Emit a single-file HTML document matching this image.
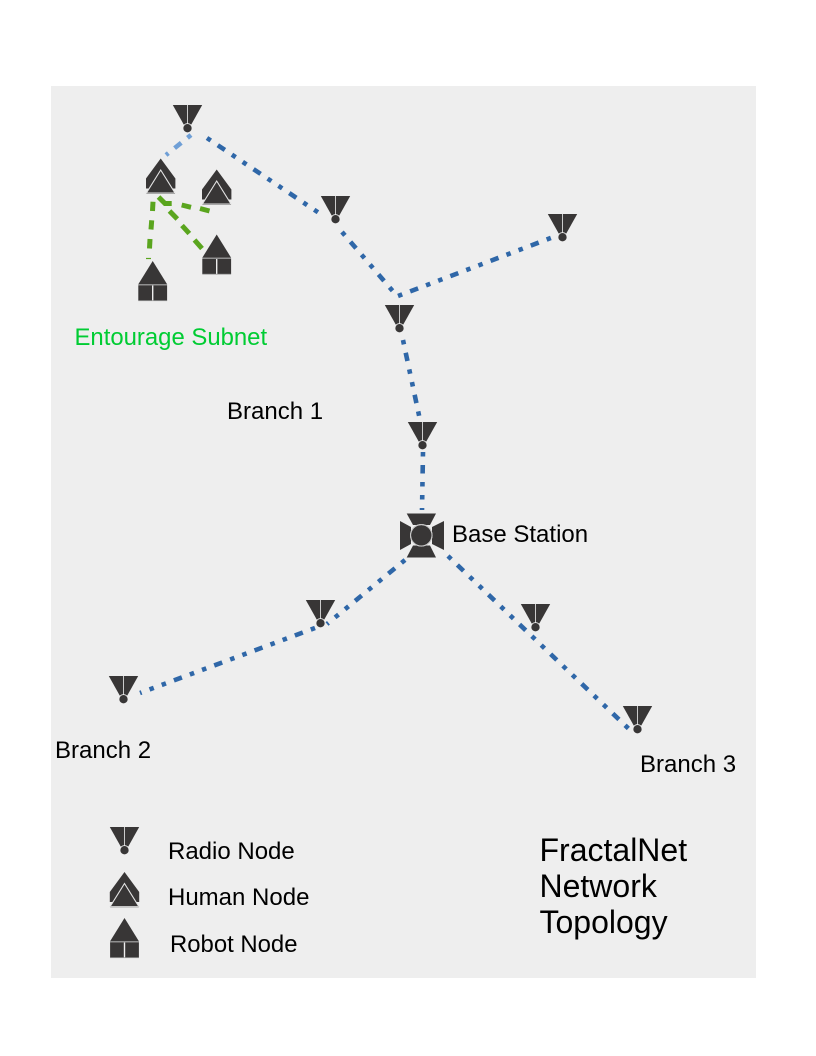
<!DOCTYPE html>
<html>
<head>
<meta charset="utf-8">
<style>
html,body{margin:0;padding:0;background:#fff;width:816px;height:1056px;overflow:hidden}
svg{display:block}
text{font-family:"Liberation Sans",sans-serif;fill:#000}
</style>
</head>
<body>
<svg width="816" height="1056" viewBox="0 0 816 1056" xmlns="http://www.w3.org/2000/svg">
<defs>
<g id="radio">
<path d="M-14.7 0H-0.4V19.5H-3.8Z" fill="#383636"/>
<path d="M14.7 0H0.4V19.5H3.8Z" fill="#383636"/>
<circle cx="0" cy="23.2" r="4.6" fill="#383636" stroke="#eee" stroke-width="0.9"/>
</g>
<g id="human">
<path d="M0 0L14.7 20V30H-14.7V20Z" fill="#383636"/>
<path d="M0 11.5L14.3 34.5H-14.3Z" fill="#383636" stroke="#e4e4e4" stroke-width="1.1"/>
<path d="M-14.3 35H14.3" stroke="#a8a8a8" stroke-width="0.9"/>
</g>
<g id="robot">
<path d="M0 0L14.4 23.2H-14.4Z" fill="#383636"/>
<rect x="-14.4" y="23" width="28.8" height="1.5" fill="#8f8f8f"/>
<rect x="-14.4" y="24.5" width="13.7" height="15" fill="#383636"/>
<rect x="0.7" y="24.5" width="13.7" height="15" fill="#383636"/>
<rect x="-14.4" y="39.3" width="28.8" height="0.8" fill="#9a9a9a"/>
</g>
</defs>

<rect x="51" y="86" width="705" height="892" fill="#eeeeee"/>

<g fill="none" stroke="#2f67a8" stroke-width="4.6" stroke-dasharray="4.5 8.5 8.5 8.5 4.5 8.5">
<path d="M207 138L322 215"/>
<path d="M342 232L397 296"/>
<path d="M398 296L556 236"/>
<path d="M403 340L420 420"/>
<path d="M423 452L422 510"/>
<path d="M405 560L327 624"/>
<path d="M315 628L140 693"/>
<path d="M448 556L630 730"/>
</g>
<path d="M191 135L166 155" fill="none" stroke="#6f9fd6" stroke-width="4.6" stroke-dasharray="4.5 8 8.5 8"/>
<g fill="none" stroke="#5aa51e" stroke-width="5">
<path d="M158.5 197L165 203.5L171.7 203.5"/>
<path d="M169.5 211L177.3 219"/>
<path d="M182 225.5L189.3 233.5"/>
<path d="M194.5 240L202 248.5"/>
<path d="M181.7 205L191 207.3"/>
<path d="M200 208.5L209.5 211"/>
<path d="M153 201.7L152.5 211"/>
<path d="M151.7 220.3L151 229.5"/>
<path d="M150 239L149.5 248.5"/>
</g>
<path d="M146 258.5L151 258.5" stroke="#5aa51e" stroke-width="1.2"/>

<use href="#radio" x="187.5" y="105"/>
<use href="#radio" x="335.5" y="196"/>
<use href="#radio" x="562.5" y="214"/>
<use href="#radio" x="399.5" y="305"/>
<use href="#radio" x="422.5" y="422"/>
<use href="#radio" x="320.5" y="600"/>
<use href="#radio" x="123.5" y="676"/>
<use href="#radio" x="535.5" y="604"/>
<use href="#radio" x="637.5" y="706"/>
<use href="#radio" x="124.5" y="827"/>

<use href="#human" x="160.7" y="158.5"/>
<use href="#human" x="216.7" y="169.5"/>
<use href="#human" x="124.5" y="872"/>

<use href="#robot" x="152.7" y="261"/>
<use href="#robot" x="216.7" y="234.5"/>
<use href="#robot" x="124.5" y="918"/>

<g fill="#383636">
<path d="M406.7 513.5H436L430 525L413 525Z"/>
<path d="M406.7 557.5H436L430 545.5L413 545.5Z"/>
<path d="M400 521V550L411 544V527Z"/>
<path d="M444 521V550L432 544V527Z"/>
</g>
<circle cx="421.3" cy="535.3" r="11.3" fill="#eee"/>
<circle cx="421.3" cy="535.3" r="10.2" fill="#383636"/>
<circle cx="421.3" cy="535.3" r="10.8" fill="none" stroke="#c4c4c4" stroke-width="0.9"/>

<text x="74.5" y="345" font-size="23.9" style="fill:#00cc33">Entourage Subnet</text>
<text x="227" y="419" font-size="24">Branch 1</text>
<text x="452" y="542" font-size="24">Base Station</text>
<text x="55" y="758" font-size="24">Branch 2</text>
<text x="640" y="772" font-size="24">Branch 3</text>
<text x="168" y="859" font-size="24">Radio Node</text>
<text x="168" y="905" font-size="24">Human Node</text>
<text x="170" y="952" font-size="23.9">Robot Node</text>
<text x="539.5" y="861" font-size="32">FractalNet</text>
<text x="539.5" y="897" font-size="32">Network</text>
<text x="539.5" y="933" font-size="32">Topology</text>
</svg>
</body>
</html>
